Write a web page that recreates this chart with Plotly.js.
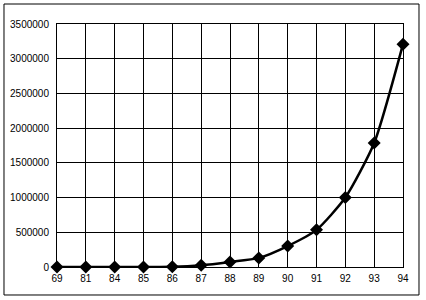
<!DOCTYPE html>
<html>
<head>
<meta charset="utf-8">
<script src="https://cdn.plot.ly/plotly-3.0.1.min.js"></script>
<style>
html,body{margin:0;padding:0;background:#fff;}
#chart{width:426px;height:300px;}
</style>
</head>
<body>
<div id="chart"></div>
<script>
const years = ["69","81","84","85","86","87","88","89","90","91","92","93","94"];
const values = [0, 0, 0, 0, 3000, 25000, 73000, 131000, 302000, 535000, 1000000, 1786000, 3210000];
const yTicks = [0, 500000, 1000000, 1500000, 2000000, 2500000, 3000000, 3500000];

const trace = {
  x: years,
  y: values,
  type: 'scatter',
  mode: 'lines+markers',
  line: {color: '#000', width: 2.5, shape: 'spline', smoothing: 0.6},
  marker: {symbol: 'diamond', size: 10, color: '#000'},
  cliponaxis: false,
  hoverinfo: 'none'
};

const layout = {
  width: 426,
  height: 300,
  margin: {l: 57, r: 23, t: 24, b: 33},
  paper_bgcolor: '#fff',
  plot_bgcolor: '#fff',
  showlegend: false,
  font: {family: 'Liberation Sans, Arial, sans-serif', size: 10, color: '#000'},
  xaxis: {
    type: 'category',
    range: [0, years.length - 1],
    showgrid: true,
    gridcolor: '#000',
    gridwidth: 1,
    showline: true,
    mirror: true,
    linecolor: '#000',
    linewidth: 1,
    ticks: '',
    ticklabelstandoff: 2,
    fixedrange: true
  },
  yaxis: {
    range: [0, 3500000],
    tickvals: yTicks,
    tickformat: 'd',
    showgrid: true,
    gridcolor: '#000',
    gridwidth: 1,
    zeroline: false,
    showline: true,
    mirror: true,
    linecolor: '#000',
    linewidth: 1,
    ticks: '',
    ticklabelstandoff: 5,
    fixedrange: true
  },
  shapes: [{
    type: 'rect', xref: 'paper', yref: 'paper',
    x0: -0.1532, x1: 1.0462, y0: -0.1152, y1: 1.0823,
    line: {color: '#000', width: 1}, fillcolor: 'rgba(0,0,0,0)', layer: 'below'
  }]
};

Plotly.newPlot('chart', [trace], layout, {staticPlot: true, displayModeBar: false});
</script>
</body>
</html>
